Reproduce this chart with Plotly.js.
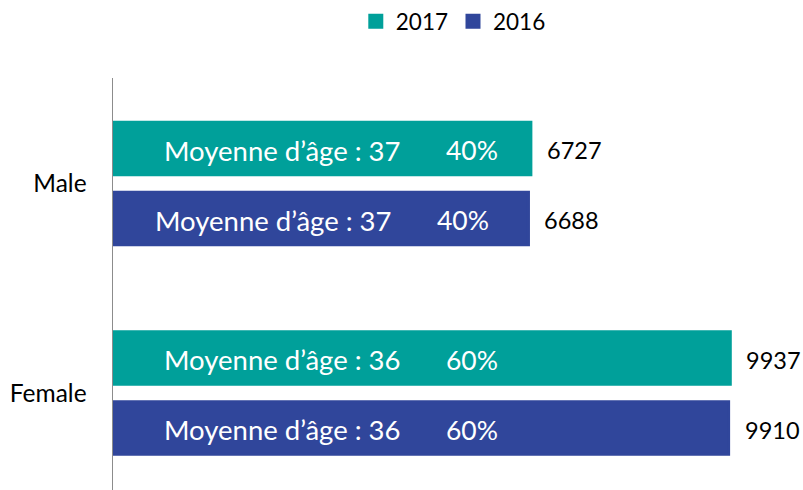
<!DOCTYPE html>
<html>
<head>
<meta charset="utf-8">
<script src="https://cdn.plot.ly/plotly-3.0.1.min.js"></script>
<style>html,body{margin:0;padding:0;background:#fff;}#chart{width:803px;height:490px;}</style>
</head>
<body>
<div id="chart"></div>
<script>
// ---- data ----
var categories = ['Male', 'Female'];
var years = ['2017', '2016'];
var counts2017 = [6727, 9937];
var counts2016 = [6688, 9910];
var ages2017 = [37, 36];
var ages2016 = [37, 36];
var share2017 = [40, 60];
var share2016 = [40, 60];

// ---- style ----
var FONT = 'Lato, "Open Sans", sans-serif';
var teal = '#00A09A';
var blue = '#30469B';
var W = 803, H = 490;
var plotL = 113, plotT = 78;
var pxPerUnit = 0.06212;
var plotW = W - plotL;
var xMax = plotW / pxPerUnit;
var LW = 3;

var traces = [
  {type: 'bar', orientation: 'h', name: years[0], y: categories, x: counts2017,
   marker: {color: teal, line: {color: teal, width: LW}}, hoverinfo: 'none'},
  {type: 'bar', orientation: 'h', name: years[1], y: categories, x: counts2016,
   marker: {color: blue, line: {color: blue, width: LW}}, hoverinfo: 'none'}
];

var annotations = [];
var series = [
  {counts: counts2017, ages: ages2017, share: share2017, yshift: 35},
  {counts: counts2016, ages: ages2016, share: share2016, yshift: -35}
];
function px2paper(p) { return (p - plotL) / plotW; }
series.forEach(function (s, si) {
  categories.forEach(function (c, ci) {
    var shiftIn = (si === 1 && ci === 0) ? -9 : 0;
    annotations.push({xref: 'paper', yref: 'y', x: px2paper(403), y: c, xanchor: 'right', yanchor: 'middle',
      xshift: shiftIn, yshift: s.yshift - 2, showarrow: false,
      text: 'Moyenne d’âge : ' + s.ages[ci], font: {family: FONT, size: 27.5, color: '#ffffff'}});
    annotations.push({xref: 'paper', yref: 'y', x: px2paper(500), y: c, xanchor: 'right', yanchor: 'middle',
      xshift: shiftIn, yshift: s.yshift - 2, showarrow: false,
      text: s.share[ci] + '%', font: {family: FONT, size: 26.5, color: '#ffffff'}});
    annotations.push({xref: 'x', yref: 'y', x: s.counts[ci], y: c, xanchor: 'left', yanchor: 'middle',
      xshift: 14, yshift: s.yshift - 2, showarrow: false,
      text: String(s.counts[ci]), font: {family: FONT, size: 23.5, color: '#000000'}});
  });
});

var layout = {
  width: W, height: H,
  margin: {l: plotL, r: 0, t: plotT, b: 0, pad: 0},
  paper_bgcolor: '#ffffff', plot_bgcolor: '#ffffff',
  font: {family: FONT, size: 22, color: '#000000'},
  barmode: 'group', bargap: 0.332, bargroupgap: 0.25,
  showlegend: true,
  legend: {orientation: 'h', xref: 'container', yref: 'container', x: 0.5645, xanchor: 'center',
    y: 1, yanchor: 'top', font: {family: FONT, size: 22.5, color: '#000'}, itemwidth: 30,
    traceorder: 'normal'},
  xaxis: {range: [0, xMax], visible: false, fixedrange: true},
  yaxis: {type: 'category', range: [1.463, -0.503], showgrid: false, zeroline: false,
    showline: true, linecolor: '#8c8c8c', linewidth: 1.5, ticks: '', ticklabelstandoff: 20,
    tickfont: {family: FONT, size: 24.5, color: '#000'}, fixedrange: true},
  annotations: annotations
};

Plotly.newPlot('chart', traces, layout, {staticPlot: true, displayModeBar: false});
</script>
</body>
</html>
